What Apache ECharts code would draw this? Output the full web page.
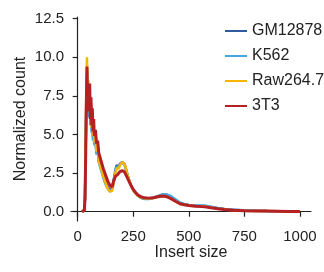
<!DOCTYPE html>
<html>
<head>
<meta charset="utf-8">
<script src="https://cdn.jsdelivr.net/npm/echarts@6/dist/echarts.min.js"></script>
<style>
  html, body { margin: 0; padding: 0; background: #fff; }
  #chart { width: 324px; height: 272px; }
</style>
</head>
<body>
<div id="chart"></div>
<script>
// insert sizes (bp)
var insertSizes = [20,25,30,33,36,39,42,45,48,51,54,57,60,63,66,69,72,75,80,85,90,95,100,105,110,115,120,125,130,135,140,145,150,155,160,165,170,175,180,185,190,195,200,205,210,215,220,230,240,250,260,270,280,290,300,320,340,360,380,400,420,440,460,480,500,530,560,580,600,630,660,700,750,800,850,900,950,1000];

var gm12878 = [0,0.02,0.1,0.9,3.8,7.5,9.2,6.5,8.0,6.3,7.6,5.8,6.8,5.3,6.0,4.8,5.3,4.4,4.7,3.8,4.0,3.3,3.4,2.8,2.9,2.4,2.4,2.0,2.0,1.6,1.65,1.4,1.45,1.5,1.9,2.3,2.7,3.0,2.9,2.9,3.1,3.2,3.2,3.2,3.1,2.9,2.6,2.1,1.7,1.4,1.2,1.05,0.95,0.88,0.85,0.85,0.9,1.0,1.1,1.1,0.95,0.75,0.56,0.47,0.42,0.38,0.37,0.35,0.3,0.22,0.17,0.12,0.08,0.06,0.04,0.03,0.02,0.02];
var k562 = [0,0.02,0.1,0.9,3.6,7.2,9.0,6.3,7.8,6.1,7.4,5.6,6.6,5.1,5.8,4.6,5.1,4.3,4.5,3.7,3.9,3.2,3.3,2.7,2.8,2.2,2.3,1.8,1.85,1.5,1.5,1.3,1.35,1.45,1.8,2.2,2.6,2.9,2.8,2.9,3.1,3.15,3.2,3.15,3.05,2.85,2.6,2.1,1.7,1.4,1.2,1.05,0.93,0.86,0.83,0.83,0.88,0.98,1.1,1.12,1.0,0.8,0.6,0.5,0.44,0.4,0.4,0.38,0.32,0.24,0.18,0.13,0.09,0.06,0.04,0.03,0.02,0.02];
var raw2647 = [0,0.02,0.1,1.0,4.0,8.0,10.0,7.0,8.5,6.6,8.0,6.0,7.0,5.4,6.2,4.9,5.5,4.5,4.8,3.9,4.1,3.3,3.4,2.8,2.9,2.3,2.4,1.9,1.9,1.5,1.55,1.3,1.3,1.35,1.7,2.1,2.5,2.8,2.7,2.8,3.0,3.1,3.2,3.2,3.1,2.9,2.6,2.1,1.7,1.4,1.2,1.05,0.95,0.9,0.87,0.85,0.88,0.95,1.0,0.98,0.85,0.68,0.52,0.45,0.41,0.37,0.35,0.32,0.27,0.2,0.15,0.1,0.07,0.05,0.04,0.03,0.02,0.02];
var t3t3 = [0,0.02,0.1,0.8,3.5,7.0,9.4,6.8,8.0,6.5,8.3,6.0,7.4,5.6,6.7,5.2,6.0,4.9,5.3,4.4,4.6,3.8,3.9,3.3,3.4,2.8,2.9,2.4,2.4,2.0,2.0,1.7,1.75,1.6,1.9,2.0,2.3,2.4,2.4,2.5,2.6,2.6,2.65,2.6,2.6,2.5,2.3,2.0,1.7,1.45,1.25,1.1,1.0,0.95,0.9,0.88,0.9,0.97,1.02,0.98,0.85,0.68,0.52,0.45,0.4,0.36,0.33,0.3,0.25,0.2,0.15,0.1,0.07,0.05,0.04,0.03,0.02,0.02];

var seriesNames = ['GM12878', 'K562', 'Raw264.7', '3T3'];
var seriesValues = [gm12878, k562, raw2647, t3t3];
var seriesColors = ['#2f5b9c', '#45a6de', '#f7b500', '#b52025'];

var xTicks = [0, 250, 500, 750, 1000];
var yTicks = [0, 2.5, 5, 7.5, 10, 12.5];

var font = '"Liberation Sans", Arial, sans-serif';

function pairs(ys) {
    return insertSizes.map(function (x, i) { return [x, ys[i]]; });
}

var chart = echarts.init(document.getElementById('chart'));

var option = {
    backgroundColor: '#fff',
    animation: false,
    grid: { left: 71, right: 13, top: 17, bottom: 51, containLabel: false },
    legend: {
        orient: 'vertical',
        left: 225,
        top: 23,
        padding: 0,
        itemWidth: 22,
        itemHeight: 2,
        itemGap: 9,
        icon: 'rect',
        textStyle: { fontFamily: font, fontSize: 16, color: '#222', lineHeight: 16 },
        data: seriesNames
    },
    xAxis: {
        type: 'value',
        min: -30,
        max: 1050,
        name: 'Insert size',
        nameLocation: 'middle',
        nameGap: 24,
        nameMoveOverlap: false,
        nameTextStyle: { fontFamily: font, fontSize: 16, color: '#222' },
        axisLine: { show: true, lineStyle: { color: '#222', width: 1.2 } },
        axisTick: { show: true, length: 5, customValues: xTicks, lineStyle: { color: '#222', width: 1.2 } },
        axisLabel: {
            customValues: xTicks,
            margin: 8,
            fontFamily: font,
            fontSize: 15,
            color: '#222',
            formatter: function (v) { return String(v); }
        },
        splitLine: { show: false }
    },
    yAxis: {
        type: 'value',
        min: -0.6,
        max: 12.6,
        name: 'Normalized count',
        nameLocation: 'middle',
        nameGap: 42,
        nameMoveOverlap: false,
        nameTextStyle: { fontFamily: font, fontSize: 16, color: '#222' },
        axisLine: { show: true, lineStyle: { color: '#222', width: 1.2 } },
        axisTick: { show: true, length: 5, customValues: yTicks, lineStyle: { color: '#222', width: 1.2 } },
        axisLabel: {
            customValues: yTicks,
            margin: 7,
            fontFamily: font,
            fontSize: 15,
            color: '#222',
            formatter: function (v) { return v.toFixed(1); }
        },
        splitLine: { show: false }
    },
    series: seriesNames.map(function (name, i) {
        return {
            name: name,
            type: 'line',
            data: pairs(seriesValues[i]),
            showSymbol: false,
            symbol: 'none',
            color: seriesColors[i],
            lineStyle: { width: i === 3 ? 3 : 2.5, color: seriesColors[i] },
            z: 2 + i
        };
    })
};

chart.setOption(option);
</script>
</body>
</html>
